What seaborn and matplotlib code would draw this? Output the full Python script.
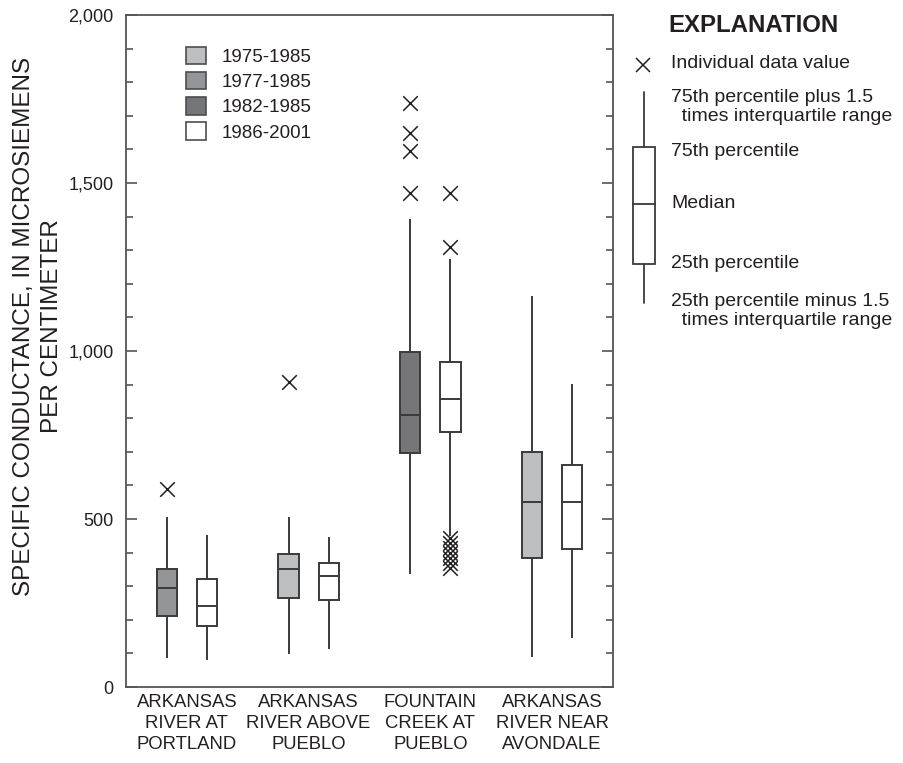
import matplotlib.pyplot as plt
import seaborn as sns
import pandas as pd
from matplotlib.patches import Patch, Rectangle

# sites along the x axis
sites = ['ARKANSAS\nRIVER AT\nPORTLAND', 'ARKANSAS\nRIVER ABOVE\nPUEBLO',
         'FOUNTAIN\nCREEK AT\nPUEBLO', 'ARKANSAS\nRIVER NEAR\nAVONDALE']

# period of record for the first box of each site, second box is always 1986-2001
early_periods = ['1977-1985', '1975-1985', '1982-1985', '1975-1985']
late_period = '1986-2001'
period_order = ['1975-1985', '1977-1985', '1982-1985', '1986-2001']
period_colors = {'1975-1985': '#bdbec0', '1977-1985': '#939598',
                 '1982-1985': '#757679', '1986-2001': '#ffffff'}

# box summaries: lower whisker, 25th, median, 75th, upper whisker
early_stats = [[85, 212, 295, 351, 507],
               [98, 265, 352, 395, 505],
               [336, 695, 810, 997, 1393],
               [90, 385, 551, 700, 1165]]
late_stats = [[80, 182, 241, 321, 452],
              [112, 259, 330, 368, 445],
              [450, 758, 858, 966, 1274],
              [146, 411, 551, 660, 901]]

# individual data values beyond the whiskers
early_outliers = [[590], [909], [1469, 1596, 1650, 1737], []]
late_outliers = [[], [], [1469, 1310, 443, 428, 413, 400, 385, 370, 355], []]

yticks = [0, 500, 1000, 1500, 2000]
ytick_labels = ['0', '500', '1,000', '1,500', '2,000']

sns.set_style('ticks')
plt.rcParams['font.family'] = ['Liberation Sans', 'DejaVu Sans']
ink = '#231f20'
edge = '#3a3a3a'

offsets = [-0.165, 0.165]
rows = []
out_rows = []
for i in range(len(sites)):
    groups = [(early_periods[i], early_stats[i], early_outliers[i]),
              (late_period, late_stats[i], late_outliers[i])]
    for slot, (period, stats, outs) in enumerate(groups):
        for v in stats:
            rows.append({'pos': i + offsets[slot], 'period': period, 'value': v})
        for v in outs:
            out_rows.append({'pos': i + offsets[slot], 'value': v})
df = pd.DataFrame(rows)
df_out = pd.DataFrame(out_rows)

fig = plt.figure(figsize=(9.04, 7.63), dpi=100)
ax = fig.add_axes([126 / 904, 1 - 687 / 763, 487 / 904, 672 / 763])

sns.boxplot(data=df, x='pos', y='value', hue='period', hue_order=period_order,
            palette=period_colors, native_scale=True, dodge=False, width=0.5,
            whis=(0, 100), linecolor=edge, linewidth=1.4, showcaps=False,
            legend=False, ax=ax)
sns.scatterplot(data=df_out, x='pos', y='value', marker='x', color=ink, s=110,
                linewidth=1.1, legend=False, ax=ax, zorder=3)

ax.set_xlim(-0.5, 3.5)
ax.set_ylim(0, 2000)
ax.set_xticks(range(len(sites)))
ax.set_xticklabels(sites, fontsize=13.3, color=ink, linespacing=1.3)
ax.set_yticks(yticks)
ax.set_yticklabels(ytick_labels, fontsize=13, color=ink)
ax.set_yticks(range(0, 2001, 100), minor=True)
ax.tick_params(axis='x', length=0, pad=5)
ax.tick_params(axis='y', which='major', direction='in', length=8, width=1.2,
               color='#555555', left=True, right=True, pad=9)
ax.tick_params(axis='y', which='minor', direction='in', length=5, width=1.2,
               color='#555555', left=True, right=True)
ax.set_xlabel('')
ax.set_ylabel('')
for sp in ax.spines.values():
    sp.set_visible(True)
    sp.set_color('#555555')
    sp.set_linewidth(1.3)

handles = [Patch(facecolor=period_colors[p], edgecolor='#4d4d4d', linewidth=1.2, label=p)
           for p in period_order]
leg = ax.legend(handles=handles, loc='upper left', bbox_to_anchor=(0.123, 0.953),
                frameon=False, fontsize=13.5, handlelength=1.05, handleheight=1.05,
                handletextpad=0.85, labelspacing=0.33, borderpad=0, borderaxespad=0)
for t in leg.get_texts():
    t.set_color(ink)

fig.text(38 / 904, 1 - 326 / 763,
         'SPECIFIC CONDUCTANCE, IN MICROSIEMENS\nPER CENTIMETER',
         rotation=90, ha='center', va='center', multialignment='center',
         fontsize=17.5, linespacing=1.3, color=ink)

# explanation panel, laid out in figure pixels
ex = fig.add_axes([0, 0, 1, 1], facecolor='none')
ex.set_xlim(0, 904)
ex.set_ylim(763, 0)
ex.axis('off')
ex.text(668, 25, 'EXPLANATION', fontsize=17.3, fontweight='bold', color=ink, va='center')
ex.plot([643], [65], marker='x', markersize=10.5, mew=1.1, color=ink)
ex.plot([644, 644], [92, 147], color=edge, lw=1.3)
ex.plot([644, 644], [264, 303], color=edge, lw=1.3)
ex.add_patch(Rectangle((633, 147), 22, 117, facecolor='white', edgecolor=edge, lw=1.3))
ex.plot([633, 655], [204, 204], color=edge, lw=1.3)
exp_labels = [(63, 'Individual data value'),
              (107, '75th percentile plus 1.5\n  times interquartile range'),
              (152, '75th percentile'),
              (203, 'Median'),
              (263, '25th percentile'),
              (311, '25th percentile minus 1.5\n  times interquartile range')]
for yy, txt in exp_labels:
    ex.text(671, yy, txt, fontsize=14, color=ink, va='center', ha='left', linespacing=1.1)

fig.savefig('out.png', dpi=100)
